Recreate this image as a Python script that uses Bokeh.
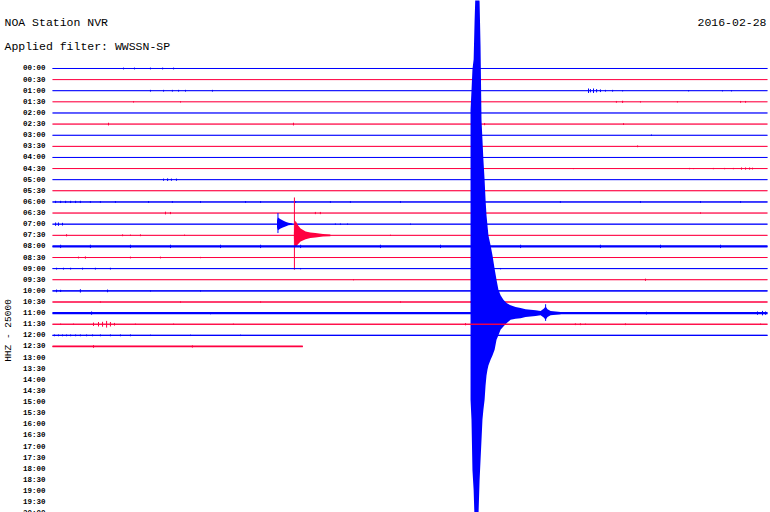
from bokeh.plotting import figure
from bokeh.models import Range1d, Label
from bokeh.embed import file_html
from bokeh.resources import INLINE
from bokeh.core.properties import value

# ---------------- data ----------------
title_text = "NOA Station NVR"
filter_text = "Applied filter: WWSSN-SP"
date_text = "2016-02-28"
channel_text = "HHZ - 25000"

row_labels = ["00:00", "00:30", "01:00", "01:30", "02:00", "02:30", "03:00", "03:30",
              "04:00", "04:30", "05:00", "05:30", "06:00", "06:30", "07:00", "07:30",
              "08:00", "08:30", "09:00", "09:30", "10:00", "10:30", "11:00", "11:30",
              "12:00", "12:30", "13:00", "13:30", "14:00", "14:30", "15:00", "15:30",
              "16:00", "16:30", "17:00", "17:30", "18:00", "18:30", "19:00", "19:30",
              "20:00"]

row_minutes = 30.0          # each line covers 30 minutes
n_trace_rows = 26           # 00:00 .. 12:30 recorded
last_row_end = 10.5         # minutes recorded in the 12:30 line

# background noise half-amplitude per recorded row (in line spacings)
row_noise = [0.02, 0.02, 0.02, 0.02, 0.02, 0.02, 0.02, 0.02, 0.02, 0.02,
             0.02, 0.02, 0.04, 0.02, 0.03, 0.03, 0.10, 0.03, 0.04, 0.02,
             0.05, 0.05, 0.10, 0.04, 0.05, 0.08]

# small transients: row index, minute in row, half-amplitude
blip_row = [0, 0, 0, 0, 0,
            2, 2, 2, 2, 2, 2, 2, 2, 2, 2, 2, 2, 2, 2, 2, 2, 2,
            3, 3, 3, 3, 3, 3, 3, 3,
            5, 5, 5, 5,
            6, 7,
            9, 9, 9, 9, 9, 9, 9, 9, 9, 9,
            10, 10, 10, 10,
            12, 12, 12, 12, 12, 12, 12, 12, 12, 12, 12, 12, 12, 12, 12, 12, 12, 12, 12, 12, 12, 12,
            13, 13, 13, 13, 13,
            14, 14, 14, 14, 14, 14, 14,
            15, 15, 15, 15, 15, 15,
            16, 16, 16, 16, 16, 16, 16, 16, 16, 16, 16, 16, 16,
            17, 17, 17, 17, 17,
            18, 18, 18, 18, 18, 18, 18, 18,
            19, 19,
            20, 20, 20, 20, 20, 20,
            21, 21, 21, 21, 21,
            22, 22, 22, 22, 22, 22,
            23, 23, 23, 23, 23, 23, 23, 23, 23, 23, 23, 23, 23, 23, 23, 23, 23,
            24, 24, 24, 24, 24, 24, 24, 24, 24, 24, 24, 24, 24, 24, 24, 24,
            25, 25]
blip_min = [2.98, 3.44, 4.11, 4.62, 5.08,
            4.11, 4.66, 5.03, 5.29, 5.58, 6.71, 22.49, 22.57, 22.70, 22.83, 22.99, 23.20, 23.50, 23.92, 26.69, 28.11, 28.49,
            3.40, 5.37, 23.66, 23.92, 24.67, 26.22, 28.87, 29.08,
            2.35, 10.11, 18.13, 23.96,
            25.13, 24.55,
            21.86, 26.73, 26.90, 27.73, 28.20, 28.57, 28.91, 29.08, 29.25, 29.37,
            4.66, 4.83, 4.99, 5.20,
            0.13, 0.34, 0.55, 0.76, 0.97, 1.17, 1.59, 2.01, 2.64, 4.03, 5.03, 6.21, 8.10, 8.73, 10.20, 11.66, 12.50, 14.60, 21.31, 24.67, 27.19, 28.87,
            4.74, 4.95, 11.03, 11.24, 27.19,
            0.13, 0.25, 0.42, 11.87, 12.08, 12.38, 15.02,
            0.59, 2.94, 3.27, 3.69, 5.54, 14.18,
            0.34, 1.59, 3.27, 4.95, 7.05, 8.73, 10.41, 13.76, 16.28, 19.64, 22.99, 25.51, 28.03,
            1.09, 1.38, 3.27, 4.53, 6.21,
            0.17, 0.46, 0.76, 1.26, 1.80, 2.43, 10.41, 18.80,
            24.88, 12.63,
            0.17, 0.34, 1.17, 2.31, 4.11, 6.21,
            2.01, 5.37, 8.73, 14.60, 17.54,
            1.64, 6.63, 24.92, 29.58, 29.79, 29.92,
            0.34, 0.88, 1.72, 1.93, 2.10, 2.27, 2.43, 2.60, 3.48, 5.08, 7.59, 17.33, 21.94, 22.15, 22.36, 24.04, 29.71,
            0.08, 0.25, 0.42, 0.59, 0.76, 0.97, 1.17, 1.43, 1.68, 2.01, 2.43, 2.85, 3.27, 4.11, 5.79, 7.89,
            1.72, 5.87]
blip_amp = [0.08, 0.08, 0.08, 0.08, 0.08,
            0.08, 0.08, 0.08, 0.08, 0.08, 0.08, 0.20, 0.15, 0.20, 0.15, 0.12, 0.08, 0.08, 0.06, 0.06, 0.06, 0.06,
            0.06, 0.06, 0.08, 0.10, 0.06, 0.06, 0.08, 0.08,
            0.12, 0.12, 0.10, 0.08,
            0.06, 0.08,
            0.05, 0.06, 0.05, 0.06, 0.06, 0.06, 0.10, 0.10, 0.10, 0.08,
            0.10, 0.12, 0.10, 0.10,
            0.10, 0.10, 0.10, 0.10, 0.10, 0.10, 0.08, 0.08, 0.08, 0.08, 0.08, 0.08, 0.08, 0.08, 0.08, 0.08, 0.08, 0.08, 0.08, 0.08, 0.08, 0.08,
            0.12, 0.10, 0.10, 0.10, 0.06,
            0.15, 0.15, 0.12, 0.06, 0.06, 0.06, 0.05,
            0.10, 0.08, 0.06, 0.08, 0.06, 0.05,
            0.15, 0.15, 0.15, 0.15, 0.15, 0.15, 0.15, 0.15, 0.15, 0.15, 0.15, 0.15, 0.15,
            0.08, 0.10, 0.08, 0.08, 0.06,
            0.08, 0.08, 0.08, 0.08, 0.08, 0.08, 0.06, 0.06,
            0.10, 0.05,
            0.12, 0.10, 0.15, 0.12, 0.06, 0.06,
            0.06, 0.06, 0.06, 0.06, 0.06,
            0.15, 0.10, 0.12, 0.15, 0.20, 0.15,
            0.06, 0.06, 0.15, 0.20, 0.22, 0.30, 0.20, 0.12, 0.06, 0.06, 0.06, 0.10, 0.08, 0.08, 0.06, 0.08, 0.06,
            0.08, 0.08, 0.08, 0.08, 0.08, 0.08, 0.08, 0.08, 0.08, 0.08, 0.08, 0.08, 0.08, 0.06, 0.06, 0.06,
            0.12, 0.10]

# regional event, 07:00 line
ev1_row = 14
ev1_min = [9.42, 9.46, 9.57, 9.69, 9.80, 9.90, 10.07]
ev1_up = [0.30, 0.60, 0.45, 0.30, 0.20, 0.12, 0.06]
ev1_down = [0.30, 0.55, 0.40, 0.28, 0.18, 0.10, 0.06]
ev1_spike_min = 9.46
ev1_spike_up, ev1_spike_down = 1.0, 0.8

# regional event, 07:30 line
ev2_row = 15
ev2_min = [10.13, 10.18, 10.20, 10.30, 10.41, 10.62, 10.82, 11.03, 11.35, 11.66]
ev2_up = [0.30, 1.20, 1.30, 0.90, 0.60, 0.35, 0.25, 0.20, 0.12, 0.08]
ev2_down = [0.30, 1.00, 1.10, 0.80, 0.55, 0.35, 0.25, 0.20, 0.12, 0.08]
ev2_spike_min = 10.15
ev2_spike_up, ev2_spike_down = 3.4, 3.1

# large earthquake, 11:00 line (amplitudes in line spacings, clipped by the page)
quake_row = 22
quake_min = [17.54, 17.58, 17.62, 17.67, 17.71, 17.75, 17.79, 17.83, 17.87, 17.92,
             17.96, 18.00, 18.04, 18.08, 18.13, 18.17, 18.21, 18.25, 18.29, 18.38,
             18.46, 18.55, 18.63, 18.71, 18.80, 18.92, 19.05, 19.22, 19.43, 19.64,
             19.85, 20.06, 20.27, 20.48, 20.61, 20.69, 20.77, 20.90, 21.11, 21.32]
quake_up = [18.3, 20.0, 21.9, 22.8, 26.3, 29.0, 29.0, 29.0, 29.0, 28.0,
            24.0, 17.4, 15.6, 13.8, 12.0, 10.2, 8.8, 7.9, 7.0, 6.1,
            5.2, 4.0, 3.0, 2.1, 1.6, 1.2, 0.9, 0.7, 0.55, 0.45,
            0.35, 0.30, 0.25, 0.20, 0.40, 0.60, 0.35, 0.20, 0.15, 0.10]
quake_down = [7.8, 9.6, 14.1, 15.9, 18.6, 19.5, 19.5, 19.3, 18.4, 15.0,
              13.2, 11.4, 9.6, 8.7, 7.8, 6.5, 5.6, 5.1, 4.7, 4.2,
              3.8, 3.3, 2.4, 2.0, 1.5, 1.2, 0.9, 0.6, 0.5, 0.45,
              0.35, 0.30, 0.25, 0.20, 0.40, 0.60, 0.35, 0.20, 0.15, 0.10]
quake_spike_min = 20.69
quake_spike_up, quake_spike_down = 0.8, 0.7

# ---------------- styling / layout ----------------
BLUE = "#0000ff"
RED = "#ff0040"
FONT = "Liberation Mono"
W, H = 770, 512

p = figure(width=W, height=H, title=None,
           x_range=Range1d(-2.182, 30.126), y_range=Range1d(39.93, -6.115),
           x_axis_type=None, y_axis_type=None,
           output_backend="svg", toolbar_location=None, min_border=0)
p.outline_line_color = None
p.grid.visible = False
p.background_fill_color = "white"
p.border_fill_color = "white"


def draw_event(row, xs, up, down, color):
    p.varea(x=xs, y1=[row - u for u in up], y2=[row + d for d in down],
            fill_color=color, fill_alpha=1.0)


for r in range(n_trace_rows):
    col = BLUE if r % 2 == 0 else RED
    x_end = row_minutes if r < n_trace_rows - 1 else last_row_end
    nz = row_noise[r]
    p.quad(left=[0], right=[x_end], top=[r - nz], bottom=[r + nz],
           fill_color=col, line_color=None)
    p.segment(x0=[0], y0=[r], x1=[x_end], y1=[r], line_color=col, line_width=1)
    idx = [i for i, rr in enumerate(blip_row) if rr == r]
    if idx:
        xs = [blip_min[i] for i in idx]
        p.segment(x0=xs, y0=[r - blip_amp[i] for i in idx],
                  x1=xs, y1=[r + blip_amp[i] for i in idx],
                  line_color=col, line_width=1)
    if r == ev1_row:
        draw_event(r, ev1_min, ev1_up, ev1_down, col)
        p.segment(x0=[ev1_spike_min], y0=[r - ev1_spike_up], x1=[ev1_spike_min],
                  y1=[r + ev1_spike_down], line_color=col, line_width=1)
    if r == ev2_row:
        draw_event(r, ev2_min, ev2_up, ev2_down, col)
        p.segment(x0=[ev2_spike_min], y0=[r - ev2_spike_up], x1=[ev2_spike_min],
                  y1=[r + ev2_spike_down], line_color=col, line_width=1)
    if r == quake_row:
        draw_event(r, quake_min, quake_up, quake_down, col)
        p.segment(x0=[quake_spike_min], y0=[r - quake_spike_up], x1=[quake_spike_min],
                  y1=[r + quake_spike_down], line_color=col, line_width=1)

# hour labels
p.text(x=[-0.294] * len(row_labels), y=list(range(len(row_labels))), text=row_labels,
       text_align="right", text_baseline="middle", text_color="black",
       text_font=value(FONT), text_font_size="7.5px", text_font_style="bold")

# header texts
p.add_layout(Label(x=4, y=H - 22, x_units="screen", y_units="screen", text=title_text,
                   text_font=FONT, text_font_size="11.5px", text_baseline="middle",
                   text_align="left", text_color="black"))
p.add_layout(Label(x=4, y=H - 46, x_units="screen", y_units="screen", text=filter_text,
                   text_font=FONT, text_font_size="11.5px", text_baseline="middle",
                   text_align="left", text_color="black"))
p.add_layout(Label(x=766, y=H - 22, x_units="screen", y_units="screen", text=date_text,
                   text_font=FONT, text_font_size="11.5px", text_baseline="middle",
                   text_align="right", text_color="black"))
p.add_layout(Label(x=8, y=H - 330, x_units="screen", y_units="screen", text=channel_text,
                   text_font=FONT, text_font_size="9.5px", text_baseline="middle",
                   text_align="center", angle=1.5708, text_color="black"))

open("out.html", "w").write(file_html(p, INLINE))
